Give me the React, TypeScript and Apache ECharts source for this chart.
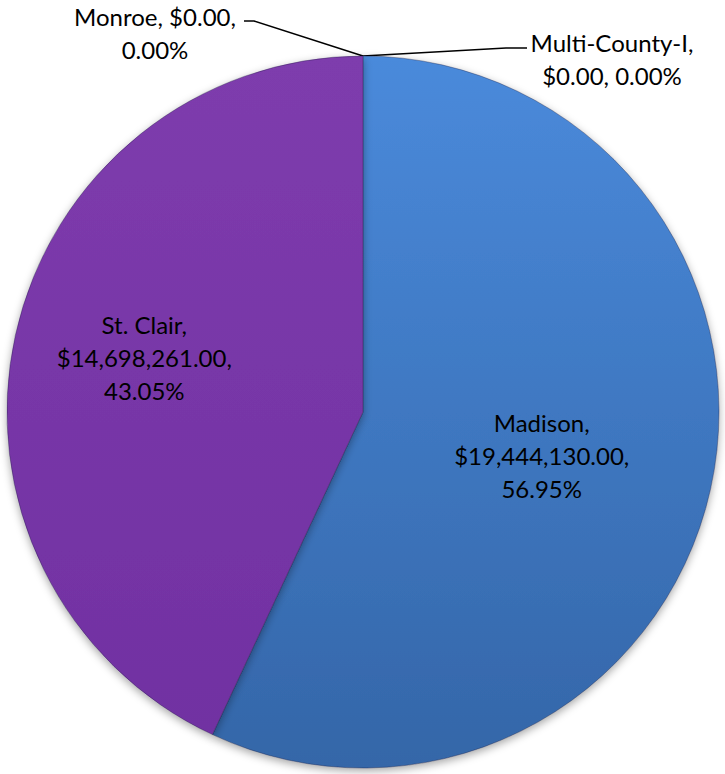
import React, { useEffect, useRef } from "react";
import * as echarts from "echarts";

const categories = ["Madison", "St. Clair", "Monroe", "Multi-County-I"];
const amounts = [19444130, 14698261, 0, 0];
// how each label's three parts are grouped into lines
const labelLines = [
  [[0], [1], [2]],
  [[0], [1], [2]],
  [[0, 1], [2]],
  [[0], [1, 2]],
];
const sliceColors = [
  ["#4A8ADB", "#3466A8"],
  ["#7E3CAD", "#7131A2"],
  ["#A5A5A5", "#8A8A8A"],
  ["#F79646", "#E46C0A"],
];

export default function App() {
  const ref = useRef<HTMLDivElement>(null);
  useEffect(() => {
    if (!ref.current) return;
    const chart = echarts.init(ref.current, null, { renderer: "svg" });
    const fmtMoney = (v: number) =>
      "$" + v.toLocaleString("en-US", { minimumFractionDigits: 2, maximumFractionDigits: 2 });
    chart.setOption({
      animation: false,
      series: [
        {
          type: "pie",
          center: [363, 412],
          radius: [0, 356],
          startAngle: 90,
          clockwise: true,
          avoidLabelOverlap: false,
          minShowLabelAngle: 0,
          data: categories.map((name, i) => ({
            name,
            value: amounts[i],
            itemStyle: {
              color: new echarts.graphic.LinearGradient(0, 0, 0, 1, [
                { offset: 0, color: sliceColors[i][0] },
                { offset: 1, color: sliceColors[i][1] },
              ]),
            },
            label: { position: amounts[i] === 0 ? "outside" : "inside" },
            labelLine: { show: amounts[i] === 0 },
          })),
          itemStyle: {
            borderColor: "rgba(30,30,60,0.35)",
            borderWidth: 1,
            shadowBlur: 8,
            shadowColor: "rgba(0,0,0,0.35)",
            shadowOffsetY: 3,
          },
          label: {
            show: true,
            color: "#000",
            fontFamily: "Lato, 'Noto Sans', sans-serif",
            fontSize: 24,
            lineHeight: 33,
            align: "center",
            formatter: (p: any) => {
              const total = amounts.reduce((a, b) => a + b, 0);
              const pct = ((p.value / total) * 100).toFixed(2) + "%";
              const parts = [p.name + ",", fmtMoney(p.value) + ",", pct];
              return labelLines[p.dataIndex]
                .map((g) => g.map((k) => parts[k]).join(" "))
                .join("\n");
            },
          },
          labelLine: {
            lineStyle: { color: "#000", width: 1.5 },
            length: 10,
            length2: 10,
          },
          labelLayout: (params: any) => {
            const i = params.dataIndex;
            const p0 = params.labelLinePoints ? params.labelLinePoints[0] : [363, 56];
            if (i === 1) return { dx: -42, dy: -15 };
            if (i === 0) return { dx: 2, dy: 4 };
            if (i === 2)
              return {
                x: 155,
                y: 33,
                align: "center",
                verticalAlign: "middle",
                labelLinePoints: [p0, [254, 21], [244, 21]],
              };
            return {
              x: 612,
              y: 59,
              align: "center",
              verticalAlign: "middle",
              labelLinePoints: [p0, [506, 48], [527, 48]],
            };
          },
        },
      ],
    });
    return () => chart.dispose();
  }, []);
  return (
    <div
      ref={ref}
      style={{ position: "fixed", left: 0, top: 0, width: 725, height: 774, background: "#fff" }}
    />
  );
}
